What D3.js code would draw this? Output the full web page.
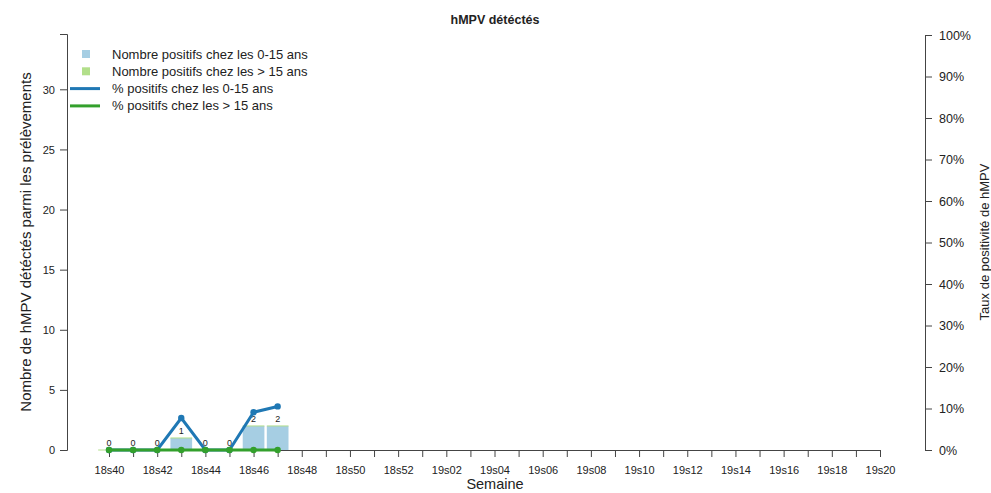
<!DOCTYPE html>
<html>
  <head>
    <meta charset="utf-8">
    <title>hMPV détéctés</title>
    <style>
      body { margin: 0; background: #fff; }
      svg text { font-family: "Liberation Sans", Arial, sans-serif; fill: #222; }
    </style>
  </head>
  <body>
    <script src="https://d3js.org/d3.v7.min.js"></script>
    <svg id="chart" width="991" height="493"></svg>
    <script>
      // weeks 18s40 .. 19s20
      const weeks = ['18s40','18s41','18s42','18s43','18s44','18s45','18s46','18s47','18s48','18s49','18s50','18s51','18s52',
        '19s01','19s02','19s03','19s04','19s05','19s06','19s07','19s08','19s09','19s10','19s11','19s12','19s13','19s14',
        '19s15','19s16','19s17','19s18','19s19','19s20']
      const dataWeeks = ['18s40','18s41','18s42','18s43','18s44','18s45','18s46','18s47']
      const nb0_15 = [0, 0, 0, 1, 0, 0, 2, 2]
      const nbOver15 = [0, 0, 0, 0, 0, 0, 0, 0]
      const pct0_15 = [0, 0, 0, 7.7, 0, 0, 9.1, 10.5]
      const pctOver15 = [0, 0, 0, 0, 0, 0, 0, 0]
      const leftTicks = [0, 5, 10, 15, 20, 25, 30]
      const rightTicks = [0, 10, 20, 30, 40, 50, 60, 70, 80, 90, 100]

      const svg = d3.select('#chart')

      const x = d3.scalePoint().domain(weeks).range([109, 880])
      const yL = d3.scaleLinear().domain([0, 34.6]).range([450, 34])
      const yR = d3.scaleLinear().domain([0, 100]).range([450, 35])
      const barW = x.step() * 0.9

      const blue = '#a6cee3', green = '#b2df8a'
      const blueLine = '#1f78b4', greenLine = '#33a02c'

      // axes
      const xAxis = svg.append('g')
        .attr('transform', 'translate(0,450)')
        .call(d3.axisBottom(x).tickSizeOuter(0).tickSize(7)
          .tickFormat((d, i) => i % 2 == 0 ? d : ''))
      const leftAxis = svg.append('g')
        .attr('transform', 'translate(67,0)')
        .call(d3.axisLeft(yL).tickValues(leftTicks).tickSizeOuter(0).tickSize(7))
      const rightAxis = svg.append('g')
        .attr('transform', 'translate(925,0)')
        .call(d3.axisRight(yR).tickValues(rightTicks).tickSizeOuter(0).tickSize(7)
          .tickFormat(d => d + '%'))

      ;[xAxis, leftAxis, rightAxis].forEach(a => {
        a.selectAll('path, line').attr('stroke', '#444')
        a.selectAll('text').attr('fill', '#222')
      })
      xAxis.selectAll('text').style('font-size', '11px').attr('y', 10).attr('dy', '14px')
      leftAxis.selectAll('text').style('font-size', '11px').attr('x', -12).attr('dy', '0.35em')
      rightAxis.selectAll('text').style('font-size', '12.5px').attr('x', 14)

      // stacked bars
      const bars = svg.append('g')
      bars.selectAll('rect.b')
        .data(dataWeeks)
        .join('rect')
          .attr('class', 'b')
          .attr('x', d => x(d) - barW / 2)
          .attr('width', barW)
          .attr('y', (d, i) => yL(nb0_15[i]))
          .attr('height', (d, i) => yL(0) - yL(nb0_15[i]))
          .attr('fill', blue)
      bars.selectAll('rect.g')
        .data(dataWeeks)
        .join('rect')
          .attr('class', 'g')
          .attr('x', d => x(d) - barW / 2)
          .attr('width', barW)
          .attr('y', (d, i) => yL(nb0_15[i] + nbOver15[i]) - 0.5)
          .attr('height', (d, i) => Math.max(1, yL(nb0_15[i]) - yL(nb0_15[i] + nbOver15[i])))
          .attr('fill', green)

      // value labels
      svg.append('g').selectAll('text')
        .data(dataWeeks)
        .join('text')
          .attr('x', d => x(d))
          .attr('y', (d, i) => yL(nb0_15[i] + nbOver15[i]) - 4)
          .attr('text-anchor', 'middle')
          .style('font-size', '9px')
          .attr('fill', '#333')
          .text((d, i) => nb0_15[i] + nbOver15[i])

      // percentage lines
      const line = d3.line().x(d => x(d.w)).y(d => yR(d.v))
      const series = [
        { vals: pct0_15, color: blueLine },
        { vals: pctOver15, color: greenLine }
      ]
      series.forEach(s => {
        const pts = dataWeeks.map((w, i) => ({ w: w, v: s.vals[i] }))
        const g = svg.append('g')
        g.append('path')
          .datum(pts)
          .attr('d', line)
          .attr('fill', 'none')
          .attr('stroke', s.color)
          .attr('stroke-width', 3)
        g.selectAll('circle')
          .data(pts)
          .join('circle')
            .attr('cx', d => x(d.w))
            .attr('cy', d => yR(d.v))
            .attr('r', 3.2)
            .attr('fill', s.color)
      })

      // titles
      svg.append('text')
        .attr('x', 495).attr('y', 24)
        .attr('text-anchor', 'middle')
        .style('font-size', '12.5px').style('font-weight', 'bold')
        .text('hMPV détéctés')
      svg.append('text')
        .attr('x', 495).attr('y', 489)
        .attr('text-anchor', 'middle')
        .style('font-size', '14.5px')
        .text('Semaine')
      svg.append('text')
        .attr('transform', 'translate(31,242) rotate(-90)')
        .attr('text-anchor', 'middle')
        .style('font-size', '15px')
        .text('Nombre de hMPV détéctés parmi les prélèvements')
      svg.append('text')
        .attr('transform', 'translate(989,242) rotate(-90)')
        .attr('text-anchor', 'middle')
        .style('font-size', '13px')
        .text('Taux de positivité de hMPV')

      // legend
      const legend = [
        { label: 'Nombre positifs chez les 0-15 ans', color: blue, type: 'rect' },
        { label: 'Nombre positifs chez les > 15 ans', color: green, type: 'rect' },
        { label: '% positifs chez les 0-15 ans', color: blueLine, type: 'line' },
        { label: '% positifs chez les > 15 ans', color: greenLine, type: 'line' }
      ]
      const lg = svg.append('g').selectAll('g')
        .data(legend)
        .join('g')
          .attr('transform', (d, i) => `translate(0,${54 + i * 17.3})`)
      lg.filter(d => d.type == 'rect').append('rect')
        .attr('x', 82).attr('y', -4).attr('width', 8).attr('height', 8)
        .attr('fill', d => d.color)
      lg.filter(d => d.type == 'line').append('line')
        .attr('x1', 70).attr('x2', 100)
        .attr('stroke', d => d.color).attr('stroke-width', 3)
      lg.append('text')
        .attr('x', 112).attr('dy', '0.35em')
        .style('font-size', '13px')
        .text(d => d.label)
    </script>
  </body>
</html>
